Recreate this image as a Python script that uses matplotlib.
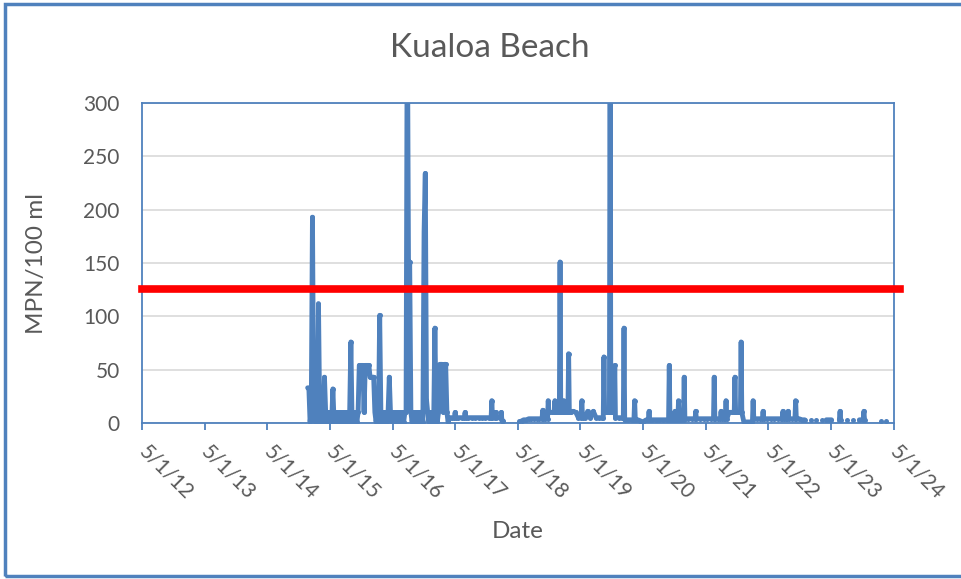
import numpy as np
import pandas as pd
import matplotlib
matplotlib.use('Agg')
import matplotlib.pyplot as plt
from matplotlib.patches import Rectangle

# Enterococcus samples, Kualoa Beach (MPN/100 ml); None = no sample (gap in line)
# weekly sampling Dec 2014 - Apr 2017
dates_2015_2017 = [
    '2014-12-23', '2014-12-30',
    '2015-01-06', '2015-01-13', '2015-01-20', '2015-01-27', '2015-02-03', '2015-02-10',
    '2015-02-17', '2015-02-24', '2015-03-03', '2015-03-10', '2015-03-17', '2015-03-24',
    '2015-03-31', '2015-04-07', '2015-04-14', '2015-04-21', '2015-04-28', '2015-05-05',
    '2015-05-12', '2015-05-19', '2015-05-26', '2015-06-02', '2015-06-09', '2015-06-16',
    '2015-06-23', '2015-06-30', '2015-07-07', '2015-07-14', '2015-07-21', '2015-07-28',
    '2015-08-04', '2015-08-11', '2015-08-18', '2015-08-25', '2015-09-01', '2015-09-08',
    '2015-09-15', '2015-09-22', '2015-09-29', '2015-10-06', '2015-10-13', '2015-10-20',
    '2015-10-27', '2015-11-03', '2015-11-10', '2015-11-17', '2015-11-24', '2015-12-01',
    '2015-12-08', '2015-12-15', '2015-12-22', '2015-12-29',
    '2016-01-05', '2016-01-12', '2016-01-19', '2016-01-26', '2016-02-02', '2016-02-09',
    '2016-02-16', '2016-02-23', '2016-03-01', '2016-03-08', '2016-03-15', '2016-03-22',
    '2016-03-29', '2016-04-05', '2016-04-12', '2016-04-19', '2016-04-26', '2016-05-03',
    '2016-05-10', '2016-05-17', '2016-05-24', '2016-05-31', '2016-06-07', '2016-06-14',
    '2016-06-21', '2016-06-28', '2016-07-05', '2016-07-12', '2016-07-19', '2016-07-26',
    '2016-08-02', '2016-08-09', '2016-08-16', '2016-08-23', '2016-08-30', '2016-09-06',
    '2016-09-13', '2016-09-20', '2016-09-27', '2016-10-04', '2016-10-11', '2016-10-18',
    '2016-10-25', '2016-11-01', '2016-11-08', '2016-11-15', '2016-11-22', '2016-11-29',
    '2016-12-06', '2016-12-13', '2016-12-20', '2016-12-27',
    '2017-01-03', '2017-01-10', '2017-01-17', '2017-01-24', '2017-01-31', '2017-02-07',
    '2017-02-14', '2017-02-21', '2017-02-28', '2017-03-07', '2017-03-14', '2017-03-21',
    '2017-03-28', '2017-04-04',
]
mpn_2015_2017 = [
    33, 33,
    1, 10, 193, 10, 1, 10,
    1, 112, 10, 1, 10, 1,
    43, 10, 1, 10, 1, 10,
    1, 32, 1, 10, 1, 10,
    1, 10, 1, 10, 1, 10,
    1, 10, 1, 10, 76, 1,
    10, 1, 10, 1, 10, 54,
    54, 54, 54, 10, 54, 54,
    54, 54, 43, 43,
    43, 43, 10, 1, 10, 1,
    101, 10, 1, 10, 1, 10,
    1, 10, 43, 10, 1, 10,
    1, 10, 1, 10, 1, 10,
    1, 10, 1, 10, 10, 400,
    151, 151, 10, 1, 10, 1,
    10, 1, 10, 1, 10, 10,
    1, 179, 234, 22, 10, 1,
    10, 1, 10, 1,
    89, 10, 1, 10, 55, 55,
    55, 10, 55, 55, 10, 1,
    5, 5,
]

dates_2017_2020 = [
    '2017-04-11', '2017-04-27', '2017-05-01', '2017-05-05', '2017-05-20', '2017-06-10',
    '2017-06-24', '2017-06-28', '2017-07-02', '2017-07-15', '2017-08-05', '2017-08-25',
    '2017-09-15', '2017-10-05', '2017-10-25', '2017-11-15', '2017-11-27', '2017-12-01',
    '2017-12-05', '2017-12-20', '2017-12-24', '2017-12-28',
    '2018-01-15', '2018-01-22', '2018-01-25', '2018-01-29', '2018-02-05', '2018-02-20',
    '2018-05-08', '2018-05-16', '2018-05-24', '2018-06-05', '2018-06-20', '2018-07-05',
    '2018-07-20', '2018-08-05', '2018-08-20', '2018-09-05', '2018-09-20', '2018-09-24',
    '2018-09-28', '2018-10-10', '2018-10-22', '2018-10-26', '2018-10-30', '2018-11-15',
    '2018-11-30', '2018-12-04', '2018-12-08', '2018-12-20', '2018-12-30',
    '2019-01-03', '2019-01-07', '2019-01-20', '2019-01-25', '2019-01-29', '2019-02-10',
    '2019-02-18', '2019-02-22', '2019-02-26', '2019-03-10', '2019-03-20', '2019-04-05',
    '2019-04-20', '2019-05-06', '2019-05-10', '2019-05-14', '2019-05-30', '2019-06-13',
    '2019-06-28', '2019-07-16', '2019-08-01', '2019-08-20', '2019-09-05', '2019-09-12',
    '2019-09-16', '2019-09-20', '2019-10-05', '2019-10-18', '2019-10-22', '2019-10-26',
    '2019-11-08', '2019-11-14', '2019-11-18', '2019-11-22', '2019-12-10', '2019-12-28',
]
mpn_2017_2020 = [
    5, 5, 10, 5, 5, 5,
    5, 10, 5, 5, 5, 5,
    5, 5, 5, 5, 5, 21,
    5, 5, 10, 5,
    5, 5, 10, 2, 2, None,
    2, None, 2, 3, 3, 4,
    4, 4, 4, 4, 4, 12,
    4, 4, 4, 21, 10, 10,
    10, 21, 10, 10, 10,
    151, 10, 10, 21, 10, 10,
    10, 65, 10, 10, 11, 10,
    5, 5, 21, 5, 5, 11,
    5, 11, 5, 5, 5, 5,
    62, 10, 10, 10, 400, 10,
    10, 10, 54, 5, 5, 5,
]

dates_2020_2024 = [
    '2020-01-07', '2020-01-11', '2020-01-15', '2020-02-05', '2020-02-25', '2020-03-09',
    '2020-03-13', '2020-03-17', '2020-04-01', '2020-04-15', '2020-04-30', '2020-05-20',
    '2020-06-01', '2020-06-05', '2020-06-09', '2020-06-25', '2020-07-15', '2020-08-05',
    '2020-08-25', '2020-09-15', '2020-09-27', '2020-10-01', '2020-10-05', '2020-10-20',
    '2020-10-30', '2020-11-03', '2020-11-07', '2020-11-20', '2020-11-24', '2020-11-28',
    '2020-12-10', '2020-12-23', '2020-12-27', '2020-12-31',
    '2021-01-20', '2021-02-10', '2021-03-01', '2021-03-04', '2021-03-08', '2021-03-30',
    '2021-04-20', '2021-05-10', '2021-05-30', '2021-06-16', '2021-06-20', '2021-06-24',
    '2021-07-10', '2021-07-26', '2021-07-30', '2021-08-03', '2021-08-15', '2021-08-24',
    '2021-08-28', '2021-09-01', '2021-09-15', '2021-10-01', '2021-10-15', '2021-10-19',
    '2021-10-23', '2021-11-05', '2021-11-20', '2021-11-24', '2021-11-28', '2021-12-10',
    '2021-12-25',
    '2022-01-10', '2022-01-29', '2022-02-02', '2022-02-06', '2022-02-25', '2022-03-15',
    '2022-03-28', '2022-04-01', '2022-04-05', '2022-04-25', '2022-05-15', '2022-06-05',
    '2022-06-25', '2022-07-15', '2022-07-22', '2022-07-26', '2022-07-30', '2022-08-15',
    '2022-08-21', '2022-08-25', '2022-08-29', '2022-09-15', '2022-10-04', '2022-10-08',
    '2022-10-12', '2022-10-28', '2022-11-15', '2022-11-30', '2022-12-15',
    '2023-01-05', '2023-01-20', '2023-02-05', '2023-02-20', '2023-03-10', '2023-03-22',
    '2023-04-05', '2023-04-20', '2023-05-05', '2023-05-25', '2023-06-20', '2023-06-24',
    '2023-06-28', '2023-07-10', '2023-08-05', '2023-08-20', '2023-09-05', '2023-09-25',
    '2023-10-15', '2023-11-06', '2023-11-10', '2023-11-14', '2023-12-01',
    '2024-02-15', '2024-03-01', '2024-03-20',
]
mpn_2020_2024 = [
    5, 89, 3, 3, 3, 3,
    21, 3, 3, 2, 1, 3,
    3, 11, 3, 3, 3, 3,
    3, 3, 3, 54, 3, 3,
    3, 11, 3, 3, 21, 3,
    3, 3, 43, 4,
    4, 4, 4, 11, 4, 4,
    4, 4, 4, 4, 43, 4,
    4, 4, 11, 4, 4, 4,
    21, 4, 10, 10, 10, 43,
    10, 10, 10, 76, 10, 1,
    1,
    1, 1, 21, 4, 4, 4,
    4, 11, 4, 4, 4, 4,
    4, 4, 4, 11, 4, 4,
    4, 11, 4, 4, 4, 21,
    4, 4, 3, 3, None,
    3, None, 3, None, 3, None,
    3, 3, 3, None, 3, 11,
    3, None, 3, None, 3, None,
    3, 3, 11, 3, None,
    2, None, 2,
]

threshold = 126  # red reference line

tick_dates = ['2012-05-01', '2013-05-01', '2014-05-01', '2015-05-01', '2016-05-01',
              '2017-05-01', '2018-05-01', '2019-05-01', '2020-05-01', '2021-05-01',
              '2022-05-01', '2023-05-01', '2024-05-01']
tick_labels = ['5/1/12', '5/1/13', '5/1/14', '5/1/15', '5/1/16', '5/1/17', '5/1/18',
               '5/1/19', '5/1/20', '5/1/21', '5/1/22', '5/1/23', '5/1/24']

dates = pd.to_datetime(dates_2015_2017 + dates_2017_2020 + dates_2020_2024)
mpn = np.array([np.nan if v is None else v
                for v in mpn_2015_2017 + mpn_2017_2020 + mpn_2020_2024], dtype=float)
ticks = pd.to_datetime(tick_dates)

blue = '#4F81BD'
grey = '#595959'
plt.rcParams['font.family'] = ['Lato', 'DejaVu Sans']

fig = plt.figure(figsize=(9.61, 5.79), dpi=100)
ax = fig.add_axes([0.1478, 0.2694, 0.9298 - 0.1478, 0.8221 - 0.2694])

ax.plot(dates, mpn, color=blue, lw=3.5, marker='o', ms=3.6, mew=0,
        solid_capstyle='round', solid_joinstyle='round', zorder=3)
ax.axhline(threshold, xmin=0, xmax=1.008, color='#FF0000', lw=5.5, clip_on=False, zorder=4)

ax.set_xlim(ticks[0], ticks[-1])
ax.set_ylim(0, 300)
ax.set_yticks(range(0, 301, 50))
ax.set_xticks(ticks)
ax.set_xticklabels(tick_labels)
ax.grid(axis='y', color='#D9D9D9', lw=1.2, zorder=0)
ax.set_axisbelow(True)

for s in ax.spines.values():
    s.set_color(blue)
    s.set_linewidth(1.3)

ax.tick_params(axis='y', length=0, pad=16, labelsize=15, labelcolor=grey)
ax.tick_params(axis='x', length=5, width=1.3, color=blue, direction='out',
               pad=13, labelsize=15, labelcolor=grey)
plt.setp(ax.get_xticklabels(), rotation=-45, ha='left', va='center',
         rotation_mode='anchor')

ax.set_ylabel('MPN/100 ml', fontsize=17.5, color=grey)
ax.yaxis.label.set_va('center')
ax.yaxis.set_label_coords(-0.141, 0.5)
ax.set_xlabel('Date', fontsize=17.5, color=grey)
ax.xaxis.label.set_va('center')
ax.xaxis.set_label_coords(0.5, -0.34)

fig.text(0.51, 0.917, 'Kualoa Beach', ha='center', va='center', fontsize=24, color=grey)

# chart border
fig.patches.append(Rectangle((5 / 961, 3 / 579), 1.0, 1 - 7 / 579, transform=fig.transFigure,
                             fill=False, edgecolor=blue, lw=2.5))

fig.savefig('out.png', dpi=100)
